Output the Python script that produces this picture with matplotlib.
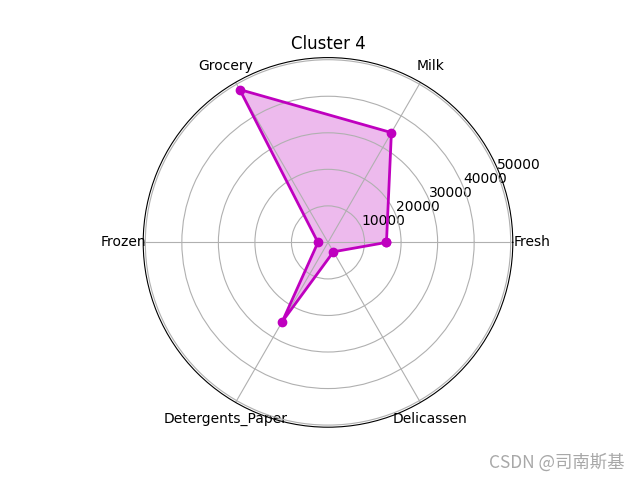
import numpy as np
import matplotlib
matplotlib.use("Agg")
from matplotlib import pyplot as plt

# Cluster centre values
labels = ["Fresh", "Milk", "Grocery", "Frozen", "Detergents_Paper", "Delicassen"]
values = [16000, 34700, 48300, 2750, 25000, 2970]

angles = np.linspace(0, 2 * np.pi, len(labels), endpoint=False)
data = np.concatenate((values, [values[0]]))
angles_closed = np.concatenate((angles, [angles[0]]))

fig = plt.figure(figsize=(6.4, 4.8), dpi=100)
ax = fig.add_subplot(111, polar=True)
ax.plot(angles_closed, data, "mo-", linewidth=2)
ax.fill(angles_closed, data, facecolor="m", alpha=0.27)
ax.set_thetagrids(angles * 180 / np.pi, labels)
ax.set_title("Cluster 4")
ax.grid(True)

fig.text(0.976, 0.017, "CSDN @司南斯基", ha="right", va="bottom",
         color="#a8a8a8", fontsize=12.5,
         family=["Noto Sans CJK SC", "DejaVu Sans"])

plt.savefig("out.png")
